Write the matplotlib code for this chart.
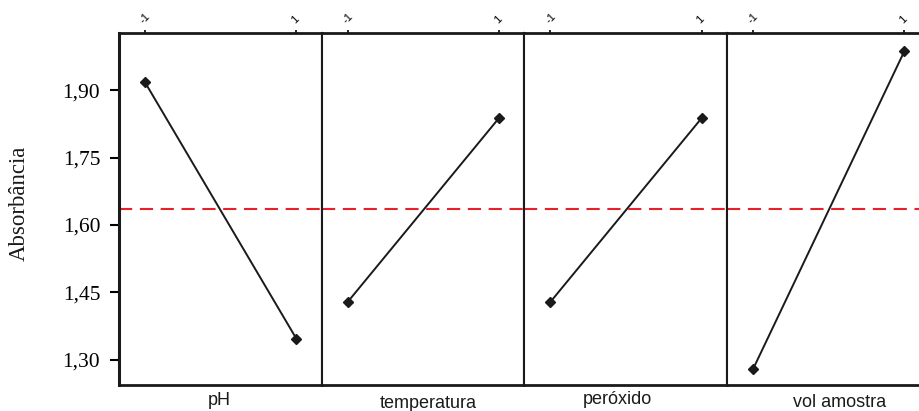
import matplotlib
matplotlib.use("Agg")
import matplotlib.pyplot as plt

# main effects, levels -1 / 1
factors = ["pH", "temperatura", "peróxido", "vol amostra"]
levels = [-1, 1]
means = {
    "pH": [1.917, 1.347],
    "temperatura": [1.429, 1.838],
    "peróxido": [1.429, 1.838],
    "vol amostra": [1.280, 1.987],
}
grand_mean = 1.636
yticks = [1.30, 1.45, 1.60, 1.75, 1.90]
ytick_labels = ["1,30", "1,45", "1,60", "1,75", "1,90"]

# label placement in pixels (center x, baseline y)
label_pos = {"pH": (219, 405), "temperatura": (428, 408),
             "peróxido": (617, 404), "vol amostra": (840, 407)}

plt.rcParams["lines.scale_dashes"] = False
W, H = 919, 411
fig = plt.figure(figsize=(W / 100, H / 100), dpi=100)

left, top, bottom = 119, 33, 385
pw = 202.7
for i, f in enumerate(factors):
    x0 = left + i * pw
    ax = fig.add_axes([x0 / W, 1 - bottom / H, pw / W, (bottom - top) / H])
    ax.plot(levels, means[f], color="#1a1a1a", lw=1.4, marker="D", ms=5.5)
    ax.axhline(grand_mean, color="#e8202a", lw=1.5, dashes=(9.5, 5.5))
    ax.set_xlim(-1.345, 1.335)
    ax.set_ylim(1.244, 2.027)
    for s in ax.spines.values():
        s.set_linewidth(1.5)
        s.set_color("#1a1a1a")
    if i == 0:
        ax.spines["left"].set_linewidth(2.2)
    ax.spines["top"].set_linewidth(2.0)
    ax.spines["bottom"].set_linewidth(2.0)
    ax.xaxis.tick_top()
    ax.set_xticks(levels)
    ax.set_xticklabels(["-1", "1"], rotation=45, fontsize=8,
                       family="Liberation Sans", ha="left",
                       rotation_mode="anchor")
    ax.tick_params(axis="x", length=2.5, width=1.2, pad=3)
    if i == 0:
        ax.set_yticks(yticks)
        ax.set_yticklabels(ytick_labels, family="Liberation Serif", fontsize=15.5)
        ax.tick_params(axis="y", length=6.5, width=1.5, pad=7)
    else:
        ax.set_yticks([])
    cx, by = label_pos[f]
    fig.text(cx / W, 1 - by / H, f, ha="center", va="baseline",
             family="Liberation Sans", fontsize=13, color="#1a1a1a")

fig.text(19 / W, 1 - 203 / H, "Absorbância", rotation=90, ha="center",
         va="center", family="Liberation Serif", fontsize=16.5, color="#1a1a1a")

fig.savefig("out.png", dpi=100)
